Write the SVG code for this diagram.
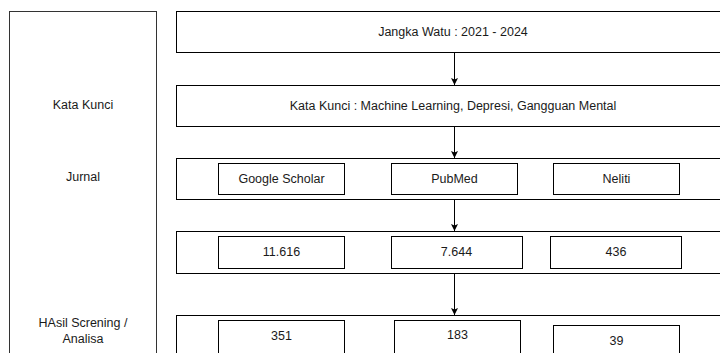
<svg xmlns="http://www.w3.org/2000/svg" width="720" height="353" viewBox="0 0 720 353">
<defs>
<marker id="ah" markerWidth="8" markerHeight="8" refX="7" refY="4" orient="auto" markerUnits="userSpaceOnUse">
<path d="M0,0.5 L7,4 L0,7.5 L1.5,4 Z" fill="#000"/>
</marker>
<style>
rect{fill:#fff;stroke:#000;stroke-width:1}
text{font-family:"Liberation Sans",Arial,sans-serif;font-size:12.5px;fill:#1a1a1a;text-anchor:middle}
.c{stroke:#000;stroke-width:1;fill:none;marker-end:url(#ah)}
</style>
</defs>
<rect width="720" height="353" fill="#fff" style="stroke:none"/>
<g id="side">
<rect x="9.5" y="11.5" width="147" height="360" style="stroke:#333"/>
<text x="83" y="109">Kata Kunci</text>
<text x="83" y="181">Jurnal</text>
<text x="83" y="327">HAsil Screning /</text>
<text x="83" y="343">Analisa</text>
</g>
<g id="jangka">
<rect x="176.5" y="11.5" width="555" height="41"/>
<text x="453" y="36">Jangka Watu : 2021 - 2024</text>
</g>
<g id="katakunci">
<rect x="176.5" y="85.5" width="555" height="41"/>
<text x="453" y="110">Kata Kunci : Machine Learning, Depresi, Gangguan Mental</text>
</g>
<g id="jurnal">
<rect x="176.5" y="158.5" width="555" height="41"/>
<rect x="218.5" y="163.5" width="126" height="31"/>
<text x="281.5" y="183">Google Scholar</text>
<rect x="391.5" y="163.5" width="126" height="31"/>
<text x="454.5" y="183">PubMed</text>
<rect x="553.5" y="163.5" width="126" height="31"/>
<text x="616.5" y="183">Neliti</text>
</g>
<g id="jumlah">
<rect x="176.5" y="231.5" width="555" height="42"/>
<rect x="218.5" y="236.5" width="126" height="32"/>
<text x="281.5" y="256">11.616</text>
<rect x="391.5" y="236.5" width="131" height="32"/>
<text x="456.5" y="256">7.644</text>
<rect x="550.5" y="236.5" width="131" height="32"/>
<text x="616" y="256">436</text>
</g>
<g id="hasil">
<rect x="176.5" y="315.5" width="555" height="60"/>
<rect x="218.5" y="320.5" width="126" height="40"/>
<text x="281.5" y="340">351</text>
<rect x="394.5" y="320.5" width="126" height="40"/>
<text x="457.5" y="339">183</text>
<rect x="553.5" y="325.5" width="126" height="40"/>
<text x="616.5" y="345">39</text>
</g>
<g id="connectors">
<path class="c" d="M454.5,53 L454.5,85"/>
<path class="c" d="M454.5,127 L454.5,158"/>
<path class="c" d="M454.5,200 L454.5,231"/>
<path class="c" d="M454.5,274 L454.5,315"/>
</g>
</svg>
